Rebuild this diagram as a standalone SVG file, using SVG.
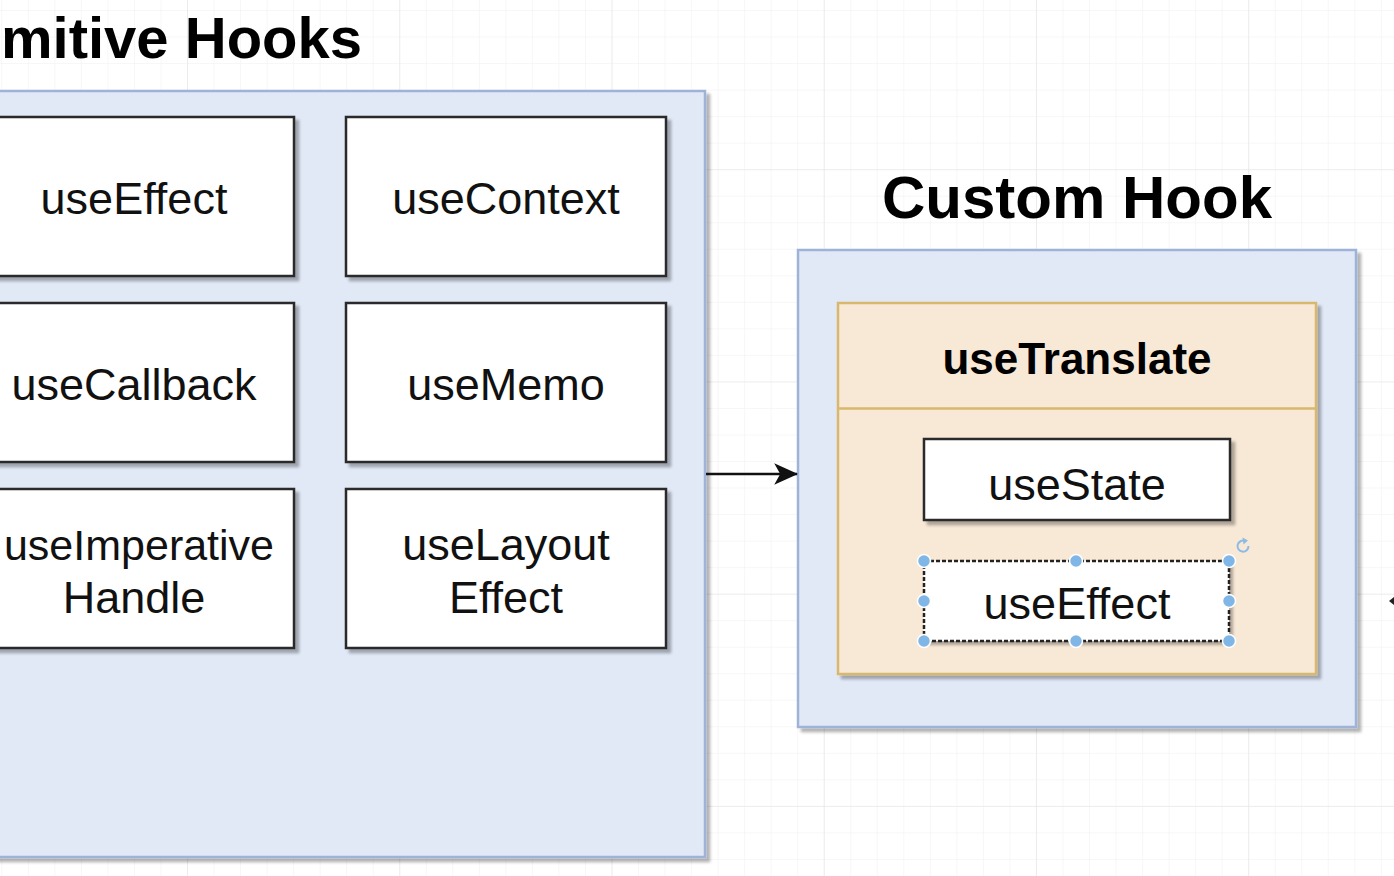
<svg xmlns="http://www.w3.org/2000/svg" width="1394" height="876" viewBox="0 0 1394 876">
  <defs>
    <pattern id="gminor" patternUnits="userSpaceOnUse" x="1.3" y="10" width="26.53" height="26.53">
      <path d="M0 0 V26.53 M0 0 H26.53" fill="none" stroke="#efefef" stroke-width="1"/>
    </pattern>
    <pattern id="gmajor" patternUnits="userSpaceOnUse" x="187" y="169.2" width="212.24" height="212.24">
      <path d="M0 0 V212.24 M0 0 H212.24" fill="none" stroke="#e4e4e4" stroke-width="1.2"/>
    </pattern>
    <filter id="sh" x="-5%" y="-5%" width="115%" height="115%">
      <feGaussianBlur in="SourceAlpha" stdDeviation="1.5"/>
      <feOffset dx="4" dy="4" result="o"/>
      <feComponentTransfer><feFuncA type="linear" slope="0.3"/></feComponentTransfer>
      <feMerge><feMergeNode/><feMergeNode in="SourceGraphic"/></feMerge>
    </filter>
    <marker id="arr" viewBox="0 0 20 20" refX="19" refY="10" markerWidth="24" markerHeight="24" markerUnits="userSpaceOnUse" orient="auto">
      <path d="M0 1 L20 10 L0 19 L5 10 Z" fill="#111"/>
    </marker>
  </defs>
  <style>
    .container { fill: #e1e9f7; stroke: #9fb2d8; stroke-width: 2.5; }
    .box { fill: #ffffff; stroke: #2a2a2a; stroke-width: 2.5; }
    .lane { fill: #f8e8d6; stroke: #d8b86c; stroke-width: 2.5; }
    .title { font-family: "Liberation Sans", Arial, sans-serif; font-weight: bold; font-size: 60px; fill: #000; }
    .lbl { font-family: "Liberation Sans", Arial, sans-serif; font-size: 45px; fill: #111; text-anchor: middle; }
    .lblb { font-family: "Liberation Sans", Arial, sans-serif; font-size: 44px; font-weight: bold; fill: #000; text-anchor: middle; }
    .handle { fill: #80b6e6; stroke: #ffffff; stroke-width: 1.5; }
  </style>

  <rect width="1394" height="876" fill="#ffffff"/>
  <rect width="1394" height="876" fill="url(#gminor)"/>
  <rect width="1394" height="876" fill="url(#gmajor)"/>

  <text class="title" x="1" y="58" style="font-size:58px">mitive Hooks</text>
  <text class="title" x="1077" y="218" text-anchor="middle">Custom Hook</text>

  <g id="primitive-hooks">
    <rect class="container" x="-10" y="91" width="715" height="766" filter="url(#sh)"/>
  </g>

  <g id="useEffect-1">
    <rect class="box" x="-10" y="117" width="304" height="159" filter="url(#sh)"/>
    <text class="lbl" x="134" y="214">useEffect</text>
  </g>
  <g id="useContext">
    <rect class="box" x="346" y="117" width="320" height="159" filter="url(#sh)"/>
    <text class="lbl" x="506" y="214">useContext</text>
  </g>
  <g id="useCallback">
    <rect class="box" x="-10" y="303" width="304" height="159" filter="url(#sh)"/>
    <text class="lbl" x="134" y="400">useCallback</text>
  </g>
  <g id="useMemo">
    <rect class="box" x="346" y="303" width="320" height="159" filter="url(#sh)"/>
    <text class="lbl" x="506" y="400">useMemo</text>
  </g>
  <g id="useImperativeHandle">
    <rect class="box" x="-10" y="489" width="304" height="159" filter="url(#sh)"/>
    <text class="lbl" x="139" y="560" style="font-size:43px">useImperative</text>
    <text class="lbl" x="134" y="613">Handle</text>
  </g>
  <g id="useLayoutEffect">
    <rect class="box" x="346" y="489" width="320" height="159" filter="url(#sh)"/>
    <text class="lbl" x="506" y="560">useLayout</text>
    <text class="lbl" x="506" y="613">Effect</text>
  </g>

  <g id="custom-hook">
    <rect class="container" x="798" y="250" width="558" height="477" filter="url(#sh)"/>
  </g>

  <g id="useTranslate">
    <rect class="lane" x="838" y="303" width="478" height="371" filter="url(#sh)"/>
    <line x1="838" y1="408.5" x2="1316" y2="408.5" stroke="#d8b86c" stroke-width="2.5"/>
    <text class="lblb" x="1077" y="374">useTranslate</text>
  </g>

  <g id="useState">
    <rect class="box" x="924" y="439" width="306" height="81" filter="url(#sh)"/>
    <text class="lbl" x="1077" y="500">useState</text>
  </g>

  <g id="useEffect-2">
    <rect x="924" y="561" width="305" height="80" fill="#ffffff" filter="url(#sh)"/>
    <rect x="924" y="561" width="305" height="80" fill="none" stroke="#222" stroke-width="2.5" stroke-dasharray="4 2"/>
    <text class="lbl" x="1077" y="619">useEffect</text>
    <circle class="handle" cx="924" cy="561" r="6.5"/>
    <circle class="handle" cx="1076" cy="561" r="6.5"/>
    <circle class="handle" cx="1229" cy="561" r="6.5"/>
    <circle class="handle" cx="924" cy="601" r="6.5"/>
    <circle class="handle" cx="1229" cy="601" r="6.5"/>
    <circle class="handle" cx="924" cy="641" r="6.5"/>
    <circle class="handle" cx="1076" cy="641" r="6.5"/>
    <circle class="handle" cx="1229" cy="641" r="6.5"/>
    <path d="M1248.5 546 A5.5 5.5 0 1 1 1245 541" fill="none" stroke="#8dbbe6" stroke-width="2"/>
    <path d="M1242.5 537.5 L1248 540.5 L1243.5 544.5 Z" fill="#8dbbe6"/>
  </g>

  <g id="connectors">
    <line x1="706" y1="474" x2="797" y2="474" stroke="#111" stroke-width="2.5" marker-end="url(#arr)"/>
    <path d="M1389 601 L1394 597 L1394 605 Z" fill="#222"/>
  </g>
</svg>
